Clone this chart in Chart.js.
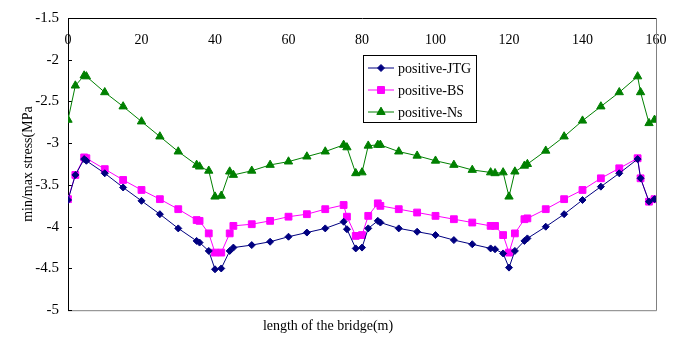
<!DOCTYPE html>
<html>
<head>
<meta charset="utf-8">
<script src="https://cdn.jsdelivr.net/npm/chart.js"></script>
<style>
  html, body { margin: 0; padding: 0; background: #fff; }
  #wrap { width: 682px; height: 338px; }
</style>
</head>
<body>
<div id="wrap"><canvas id="myChart" width="682" height="338"></canvas></div>
<script>
// bridge length positions (m)
const xPositions = [0, 2, 4.4, 5, 10, 15, 20, 25, 30, 35, 35.8, 38.3, 40, 41.7, 44, 45,
    50, 55, 60, 65, 70, 75, 75.9, 78.3, 80, 81.7, 84.3, 85, 90, 95, 100, 105, 110, 115,
    116.2, 118.4, 120, 121.6, 124.2, 125, 130, 135, 140, 145, 150, 155, 155.8, 158.1, 159.6];

const jtgValues = [-3.68, -3.38, -3.19, -3.21, -3.36, -3.53, -3.69, -3.85, -4.02, -4.17, -4.19, -4.29, -4.51, -4.50, -4.29, -4.25,
    -4.22, -4.18, -4.12, -4.07, -4.02, -3.94, -4.03, -4.26, -4.25, -4.02, -3.93, -3.95, -4.02, -4.06, -4.10, -4.16, -4.21, -4.26,
    -4.27, -4.32, -4.49, -4.29, -4.17, -4.14, -4.00, -3.85, -3.68, -3.52, -3.36, -3.19, -3.42, -3.70, -3.67];

const bsValues = [-3.67, -3.38, -3.17, -3.18, -3.31, -3.44, -3.56, -3.67, -3.79, -3.92, -3.93, -4.08, -4.31, -4.31, -4.08, -3.99,
    -3.97, -3.93, -3.88, -3.85, -3.79, -3.74, -3.88, -4.11, -4.10, -3.87, -3.72, -3.75, -3.79, -3.83, -3.87, -3.91, -3.95, -3.99,
    -3.99, -4.10, -4.31, -4.08, -3.91, -3.90, -3.79, -3.67, -3.56, -3.42, -3.30, -3.18, -3.42, -3.70, -3.67];

const nsValues = [-2.72, -2.31, -2.19, -2.20, -2.39, -2.56, -2.74, -2.92, -3.10, -3.26, -3.28, -3.33, -3.64, -3.63, -3.34, -3.38,
    -3.33, -3.26, -3.22, -3.16, -3.10, -3.02, -3.05, -3.36, -3.35, -3.03, -3.02, -3.02, -3.10, -3.15, -3.21, -3.26, -3.32, -3.35,
    -3.36, -3.35, -3.64, -3.34, -3.27, -3.25, -3.09, -2.92, -2.73, -2.56, -2.39, -2.20, -2.39, -2.76, -2.72];

const seriesNames = ['positive-JTG', 'positive-BS', 'positive-Ns'];

const serif = 'Liberation Serif, Times New Roman, serif';

function toPoints(vals) {
    return xPositions.map((x, i) => ({ x: x, y: vals[i] }));
}

// gray frame on right/bottom + small inward ticks on the y axis
const framePlugin = {
    id: 'frame',
    beforeDatasetsDraw(chart) {
        const { ctx, chartArea: a, scales } = chart;
        ctx.save();
        ctx.strokeStyle = '#808080';
        ctx.lineWidth = 1;
        ctx.beginPath();
        ctx.moveTo(a.right + 0.5, a.top);
        ctx.lineTo(a.right + 0.5, a.bottom + 0.5);
        ctx.lineTo(a.left, a.bottom + 0.5);
        ctx.stroke();
        ctx.strokeStyle = '#000';
        scales.y.ticks.forEach(t => {
            const py = Math.round(scales.y.getPixelForValue(t.value)) + 0.5;
            ctx.beginPath();
            ctx.moveTo(a.left, py);
            ctx.lineTo(a.left + 4, py);
            ctx.stroke();
        });
        ctx.restore();
    }
};

// legend box drawn inside the plot
const legendBoxPlugin = {
    id: 'legendBox',
    afterDraw(chart) {
        const { ctx } = chart;
        const bx = 363, by = 55, bw = 113, bh = 67;
        ctx.save();
        ctx.fillStyle = '#fff';
        ctx.fillRect(bx, by, bw, bh);
        ctx.strokeStyle = '#000';
        ctx.lineWidth = 1;
        ctx.strokeRect(bx + 0.5, by + 0.5, bw, bh);
        ctx.font = '14px ' + serif;
        ctx.textBaseline = 'middle';
        chart.data.datasets.forEach((ds, i) => {
            const yy = by + 13 + i * 22;
            ctx.strokeStyle = ds.borderColor;
            ctx.lineWidth = 1;
            ctx.beginPath();
            ctx.moveTo(bx + 5, yy);
            ctx.lineTo(bx + 31, yy);
            ctx.stroke();
            Chart.helpers.drawPoint(ctx, {
                pointStyle: ds.pointStyle, radius: ds.pointRadius, borderWidth: 1
            }, bx + 18, yy);
            ctx.fillStyle = ds.pointBackgroundColor;
            ctx.strokeStyle = ds.pointBorderColor;
            ctx.fill();
            ctx.fillStyle = '#000';
            ctx.fillText(ds.label, bx + 35, yy + 1);
        });
        ctx.restore();
    }
};

function makeSet(label, vals, color, style, r) {
    return {
        label: label,
        data: toPoints(vals),
        borderColor: color,
        backgroundColor: color,
        pointBackgroundColor: color,
        pointBorderColor: color,
        pointStyle: style,
        pointRadius: r,
        pointBorderWidth: 1,
        borderWidth: 1,
        showLine: true,
        tension: 0
    };
}

const ctx = document.getElementById('myChart').getContext('2d');
const myChart = new Chart(ctx, {
    type: 'scatter',
    data: {
        datasets: [
            makeSet(seriesNames[0], jtgValues, '#000080', 'rectRot', 3.5),
            makeSet(seriesNames[1], bsValues, '#FF00FF', 'rect', 4.8),
            makeSet(seriesNames[2], nsValues, '#008000', 'triangle', 4.8)
        ]
    },
    options: {
        responsive: false,
        animation: false,
        layout: { padding: { top: 13, right: 26, left: 0, bottom: 0 } },
        plugins: {
            legend: { display: false },
            tooltip: { enabled: false },
            title: {
                display: true,
                position: 'bottom',
                text: 'length of the bridge(m)',
                color: '#000',
                font: { family: serif, size: 14, weight: 'normal' },
                padding: { top: 8, bottom: 3 }
            }
        },
        scales: {
            x: {
                type: 'linear',
                position: { y: -1.5 },
                min: 0,
                max: 160,
                ticks: {
                    stepSize: 20,
                    padding: 14,
                    color: '#000',
                    font: { family: serif, size: 14 }
                },
                grid: { drawOnChartArea: false, drawTicks: false },
                border: { display: true, color: '#000', width: 1 }
            },
            y: {
                min: -5,
                max: -1.5,
                afterFit(scale) { scale.width = 68; },
                ticks: {
                    stepSize: 0.5,
                    padding: 9,
                    color: '#000',
                    font: { family: serif, size: 15 },
                    callback: (v) => String(Math.round(v * 10) / 10)
                },
                grid: { drawOnChartArea: false, drawTicks: false },
                border: { display: true, color: '#000', width: 1 },
                title: {
                    display: true,
                    text: 'min/max stress(MPa',
                    color: '#000',
                    font: { family: serif, size: 14 },
                    padding: { top: 20, bottom: 0 }
                }
            }
        }
    },
    plugins: [framePlugin, legendBoxPlugin]
});
</script>
</body>
</html>
